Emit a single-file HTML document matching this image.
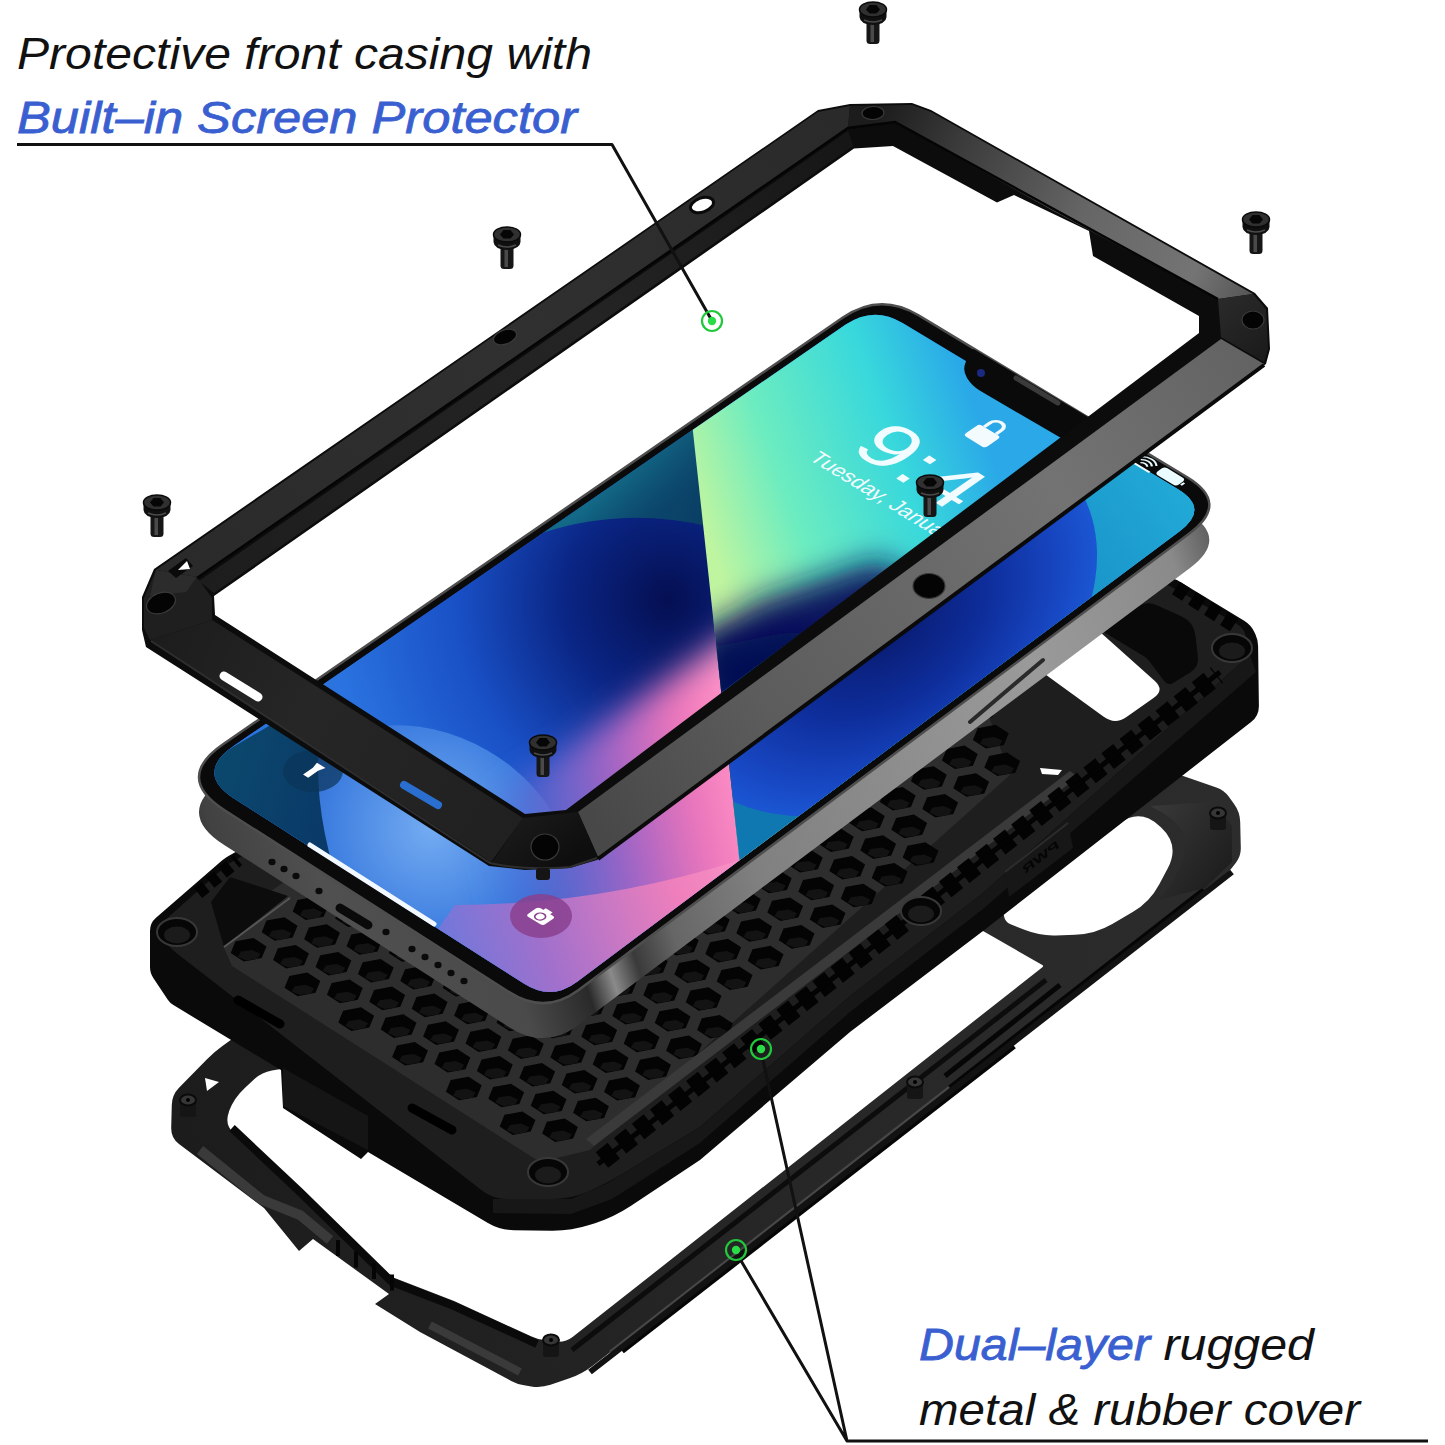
<!DOCTYPE html>
<html><head><meta charset="utf-8"><title>Protective case exploded view</title>
<style>html,body{margin:0;padding:0;background:#fff}body{width:1445px;height:1445px;overflow:hidden}svg{display:block}text{font-family:"Liberation Sans",sans-serif;font-style:italic}</style>
</head><body>
<svg width="1445" height="1445" viewBox="0 0 1445 1445"><defs><linearGradient id="bfg" gradientUnits="userSpaceOnUse" x1="170" y1="1050" x2="1240" y2="900"><stop offset="0" stop-color="#1c1c1c"/><stop offset="0.5" stop-color="#262626"/><stop offset="1" stop-color="#2c2c2c"/></linearGradient><linearGradient id="bfr" gradientUnits="userSpaceOnUse" x1="1150" y1="800" x2="1235" y2="860"><stop offset="0" stop-color="#3a3a3a"/><stop offset="1" stop-color="#1e1e1e"/></linearGradient><linearGradient id="pside" gradientUnits="userSpaceOnUse" x1="190" y1="900" x2="1230" y2="560"><stop offset="0" stop-color="#2a2a2a"/><stop offset="0.04" stop-color="#424242"/><stop offset="0.12" stop-color="#505050"/><stop offset="0.26" stop-color="#4a4a4a"/><stop offset="0.32" stop-color="#2a2a2a"/><stop offset="0.345" stop-color="#8a8a8a"/><stop offset="0.37" stop-color="#3a3a3a"/><stop offset="0.41" stop-color="#666"/><stop offset="0.5" stop-color="#808080"/><stop offset="0.8" stop-color="#9a9a9a"/><stop offset="0.95" stop-color="#8a8a8a"/><stop offset="1" stop-color="#555"/></linearGradient><clipPath id="scrclip"><path d="M234.7,798.9 Q194.3,773.0 233.8,745.8 L845.4,324.8 Q873.4,305.5 902.6,323.0 L1177.6,488.9 Q1210.1,508.5 1179.7,531.2 L576.8,981.9 Q551.2,1001.0 524.2,983.8 Z"/></clipPath><radialGradient id="disc" gradientUnits="userSpaceOnUse" cx="668" cy="600" r="340"><stop offset="0" stop-color="#050f52"/><stop offset="0.3" stop-color="#0a2584"/><stop offset="0.62" stop-color="#1950c6"/><stop offset="1" stop-color="#2b74e0"/></radialGradient><linearGradient id="teal" gradientUnits="userSpaceOnUse" x1="515" y1="470" x2="575" y2="565"><stop offset="0" stop-color="#2c9fa8"/><stop offset="0.45" stop-color="#167690"/><stop offset="1" stop-color="#0c4e74"/></linearGradient><linearGradient id="teal2" gradientUnits="userSpaceOnUse" x1="600" y1="470" x2="700" y2="520"><stop offset="0" stop-color="#000"/><stop offset="1" stop-color="#062a50"/></linearGradient><linearGradient id="tealsh" gradientUnits="userSpaceOnUse" x1="600" y1="470" x2="705" y2="520"><stop offset="0" stop-color="#0a3a60" stop-opacity="0"/><stop offset="1" stop-color="#0a3a60" stop-opacity="0.75"/></linearGradient><radialGradient id="sph2" gradientUnits="userSpaceOnUse" cx="420" cy="830" r="170"><stop offset="0" stop-color="#74acf2"/><stop offset="0.6" stop-color="#3f7fe0"/><stop offset="1" stop-color="#2a62c8"/></radialGradient><linearGradient id="lc" gradientUnits="userSpaceOnUse" x1="200" y1="760" x2="330" y2="800"><stop offset="0" stop-color="#0b4a6e"/><stop offset="1" stop-color="#0a3a68"/></linearGradient><clipPath id="leftdiv"><polygon points="689,395 739,856 760,1010 150,1010 150,300"/></clipPath><linearGradient id="pinkh" gradientUnits="userSpaceOnUse" x1="470" y1="820" x2="745" y2="760"><stop offset="0" stop-color="#3f6ad8" stop-opacity="0"/><stop offset="0.3" stop-color="#6a66cc" stop-opacity="0.85"/><stop offset="0.55" stop-color="#a765c4"/><stop offset="0.8" stop-color="#ee76ba"/><stop offset="1" stop-color="#ff94c8"/></linearGradient><linearGradient id="pink2" gradientUnits="userSpaceOnUse" x1="420" y1="980" x2="760" y2="860"><stop offset="0" stop-color="#5f7be0"/><stop offset="0.35" stop-color="#a070cc"/><stop offset="0.75" stop-color="#ee7fbc"/><stop offset="1" stop-color="#fa96c8"/></linearGradient><linearGradient id="wedge" gradientUnits="userSpaceOnUse" x1="700" y1="520" x2="980" y2="420"><stop offset="0" stop-color="#c0f5a0"/><stop offset="0.3" stop-color="#6cecc0"/><stop offset="0.7" stop-color="#38d8dc"/><stop offset="1" stop-color="#2aa8e8"/></linearGradient><filter id="blur14" x="-30%" y="-30%" width="160%" height="160%"><feGaussianBlur stdDeviation="16"/></filter><clipPath id="rightdiv"><polygon points="689,395 739,856 760,1010 1300,1010 1300,250 800,250"/></clipPath><clipPath id="belowband"><polygon points="722,692 1300,262 1300,1010 760,1010 739,856"/></clipPath><linearGradient id="bb" gradientUnits="userSpaceOnUse" x1="780" y1="800" x2="1200" y2="480"><stop offset="0" stop-color="#0f78b0"/><stop offset="0.5" stop-color="#1485c0"/><stop offset="1" stop-color="#22acd8"/></linearGradient><radialGradient id="bbd" gradientUnits="userSpaceOnUse" cx="0" cy="0" r="1"><stop offset="0" stop-color="#08186a"/><stop offset="0.5" stop-color="#0e2e9c"/><stop offset="0.85" stop-color="#1848c4"/><stop offset="1" stop-color="#1b56d2"/></radialGradient><linearGradient id="tl1" gradientUnits="userSpaceOnUse" x1="160" y1="570" x2="840" y2="115"><stop offset="0" stop-color="#2a2a2a"/><stop offset="0.5" stop-color="#303030"/><stop offset="1" stop-color="#2a2a2a"/></linearGradient><linearGradient id="tl2" gradientUnits="userSpaceOnUse" x1="200" y1="590" x2="850" y2="140"><stop offset="0" stop-color="#1d1d1d"/><stop offset="0.6" stop-color="#242424"/><stop offset="1" stop-color="#161616"/></linearGradient><linearGradient id="tr1" gradientUnits="userSpaceOnUse" x1="880" y1="110" x2="1250" y2="300"><stop offset="0" stop-color="#1c1c1c"/><stop offset="0.2" stop-color="#3a3a3a"/><stop offset="0.55" stop-color="#666"/><stop offset="0.85" stop-color="#747474"/><stop offset="1" stop-color="#555"/></linearGradient><linearGradient id="rc" gradientUnits="userSpaceOnUse" x1="1220" y1="300" x2="1268" y2="360"><stop offset="0" stop-color="#2a2a2a"/><stop offset="1" stop-color="#1a1a1a"/></linearGradient><linearGradient id="br1" gradientUnits="userSpaceOnUse" x1="600" y1="830" x2="1260" y2="350"><stop offset="0" stop-color="#484848"/><stop offset="0.25" stop-color="#5c5c5c"/><stop offset="0.7" stop-color="#737373"/><stop offset="1" stop-color="#626262"/></linearGradient><linearGradient id="bc" gradientUnits="userSpaceOnUse" x1="520" y1="815" x2="560" y2="868"><stop offset="0" stop-color="#1a1a1a"/><stop offset="1" stop-color="#0e0e0e"/></linearGradient><linearGradient id="bl1" gradientUnits="userSpaceOnUse" x1="150" y1="640" x2="520" y2="840"><stop offset="0" stop-color="#1c1c1c"/><stop offset="0.4" stop-color="#262626"/><stop offset="1" stop-color="#202020"/></linearGradient></defs>
<rect width="1445" height="1445" fill="#ffffff"/>
<g id="backframe">
<path d="M171.8,1105.0 Q172.0,1095.0 179.0,1087.8 L207.0,1059.2 Q214.0,1052.0 222.1,1046.2 L300.0,990.0 L1000.0,820.0 L1150.5,771.1 Q1160.0,768.0 1169.5,771.3 L1216.4,787.4 Q1224.0,790.0 1228.7,796.5 L1234.1,803.9 Q1240.0,812.0 1240.2,822.0 L1240.8,848.0 Q1241.0,856.0 1236.1,862.4 L1231.6,868.2 Q1228.0,873.0 1223.3,876.7 L593.1,1365.4 Q582.0,1374.0 568.8,1378.5 L550.5,1384.8 Q541.0,1388.0 531.1,1386.4 L522.9,1385.0 Q517.0,1384.0 511.7,1381.2 L420.0,1332.0 L375.0,1304.0 L389.0,1294.0 L313.0,1239.0 L299.0,1251.0 L264.0,1208.0 L179.0,1144.0 Q171.0,1138.0 171.2,1128.0 Z" fill="url(#bfg)" />
<path d="M229.1,1111.1 Q234.0,1098.0 244.3,1088.5 L254.7,1078.8 Q262.0,1072.0 271.9,1070.4 L700.0,1000.0 L983.0,931.0 L1042.3,965.0 Q1044.0,966.0 1042.4,967.2 L572.9,1336.8 Q565.0,1343.0 555.1,1341.6 L542.9,1339.8 Q537.0,1339.0 531.5,1336.5 L454.0,1301.0 L392.0,1277.0 L295.0,1187.0 L234.5,1134.2 Q224.0,1125.0 228.9,1111.9 Z" fill="#ffffff" />
<path d="M1004.0,915.9 Q1003.0,910.0 1007.8,906.4 L1119.1,823.5 Q1140.0,808.0 1159.1,825.7 L1160.9,827.3 Q1180.0,845.0 1167.9,868.0 L1159.3,884.3 Q1150.0,902.0 1132.7,912.1 L1112.3,923.9 Q1095.0,934.0 1075.0,934.7 L1056.0,935.4 Q1040.0,936.0 1025.1,930.1 L1010.6,924.3 Q1005.0,922.0 1004.0,916.0 Z" fill="#ffffff" />
<path d="M572,1350 L1046,980" stroke="#0c0c0c" stroke-width="5" fill="none"/>
<path d="M610,1352 L1010,1040" stroke="#474747" stroke-width="3" fill="none"/>
<path d="M622,1351 L1014,1046" stroke="#060606" stroke-width="6" fill="none"/>
<path d="M945,1076 L1060,985" stroke="#060606" stroke-width="5" fill="none"/>
<path d="M950,1088 L1204,890" stroke="#060606" stroke-width="6" fill="none"/>
<path d="M590,1372 L1232,872" stroke="#121212" stroke-width="6" fill="none"/>
<path d="M1150,806 Q1192,826 1185,850 Q1178,880 1158,900 L1205,888 L1232,862 L1232,826 L1214,802 Z" fill="url(#bfr)" />
<path d="M232,1128 L300,1192 L392,1282 L454,1306 L537,1344" stroke="#0a0a0a" stroke-width="8" fill="none"/>
<path d="M200,1150 L262,1200 L300,1215 L330,1240" stroke="#3a3a3a" stroke-width="10" fill="none"/>
<path d="M430,1325 L520,1372" stroke="#3a3a3a" stroke-width="8" fill="none"/>
<rect x="336" y="1240.0" width="4" height="16" fill="#050505"/>
<rect x="354" y="1251.5" width="4" height="16" fill="#050505"/>
<rect x="372" y="1263.0" width="4" height="16" fill="#050505"/>
<rect x="390" y="1274.5" width="4" height="16" fill="#050505"/>
<polygon points="205.0,1078.0 219.0,1082.0 207.0,1091.0" fill="#fff" />
<rect x="180" y="1100" width="16" height="17" rx="3" fill="#151515"/>
<ellipse cx="188" cy="1100" rx="8" ry="5.5" fill="#363636" stroke="#0a0a0a" stroke-width="2"/>
<circle cx="188" cy="1100" r="2" fill="#000"/>
<rect x="543" y="1340" width="16" height="17" rx="3" fill="#151515"/>
<ellipse cx="551" cy="1340" rx="8" ry="5.5" fill="#363636" stroke="#0a0a0a" stroke-width="2"/>
<circle cx="551" cy="1340" r="2" fill="#000"/>
<rect x="1210" y="813" width="16" height="17" rx="3" fill="#151515"/>
<ellipse cx="1218" cy="813" rx="8" ry="5.5" fill="#363636" stroke="#0a0a0a" stroke-width="2"/>
<circle cx="1218" cy="813" r="2" fill="#000"/>
<rect x="907" y="1082" width="16" height="17" rx="3" fill="#151515"/>
<ellipse cx="915" cy="1082" rx="8" ry="5.5" fill="#363636" stroke="#0a0a0a" stroke-width="2"/>
<circle cx="915" cy="1082" r="2" fill="#000"/>
</g>
<g id="rubber">
<path d="M150.0,931.0 Q150.0,923.0 156.0,917.8 L222.0,860.6 Q225.0,858.0 228.5,856.0 L900.0,480.0 L1177.0,580.0 L1244.2,620.8 Q1251.0,625.0 1254.4,632.2 L1255.5,634.6 Q1258.0,640.0 1258.1,646.0 L1258.9,706.0 Q1259.0,716.0 1251.1,722.1 L983.0,931.0 L850.0,1032.0 L700.0,1160.0 L630.7,1206.0 Q614.0,1217.0 595.0,1223.2 L590.0,1224.8 Q571.0,1231.0 551.0,1230.7 L514.0,1230.2 Q500.0,1230.0 487.9,1222.9 L368.0,1152.0 L361.0,1159.0 L283.0,1108.0 L281.0,1070.0 L173.4,1005.1 Q170.0,1003.0 167.8,999.7 L153.3,978.0 Q150.0,973.0 150.0,967.0 Z" fill="#0a0a0a" />
<path d="M160.6,934.6 Q156.0,928.0 162.0,922.7 L225.0,866.7 Q228.0,864.0 231.5,862.1 L900.0,490.0 L1170.0,586.0 L1237.0,624.1 Q1244.0,628.0 1245.7,635.8 L1248.3,647.2 Q1250.0,655.0 1244.0,660.3 L983.0,893.0 L850.0,996.0 L700.0,1127.0 L622.3,1174.1 Q606.0,1184.0 588.5,1191.5 L588.5,1191.5 Q571.0,1199.0 552.0,1199.0 L507.0,1199.0 Q493.0,1199.0 481.9,1190.4 L176.3,952.9 Q170.0,948.0 165.4,941.4 Z" fill="#1e1e1e" />
<polygon points="1250.0,655.0 983.0,893.0 850.0,996.0 700.0,1127.0 606.0,1184.0 571.0,1199.0 493.0,1199.0 493.0,1213.0 571.0,1214.0 612.0,1199.0 700.0,1143.0 850.0,1012.0 983.0,909.0 1256.0,672.0" fill="#171717" />
<path d="M224.0,948.0 L250.0,905.0 L900.0,470.0 L1010.0,775.0 L590.0,1150.0 L540.0,1162.0 L232.0,966.0 Z" fill="#2d2d2d" />
<path d="M844.1,525.4 L839.3,537.1 L821.4,540.5 L808.3,532.0 L813.1,520.3 L831.0,516.9Z M266.5,946.4 L261.7,958.1 L243.8,961.5 L230.7,953.0 L235.5,941.3 L253.4,937.9Z M297.5,925.7 L292.7,937.4 L274.8,940.8 L261.7,932.3 L266.5,920.6 L284.4,917.2Z M328.5,905.0 L323.7,916.7 L305.8,920.1 L292.7,911.6 L297.5,899.9 L315.4,896.5Z M359.5,884.3 L354.7,896.0 L336.8,899.4 L323.7,890.9 L328.5,879.2 L346.4,875.8Z M390.5,863.6 L385.7,875.3 L367.8,878.7 L354.7,870.2 L359.5,858.5 L377.4,855.1Z M421.5,842.9 L416.7,854.6 L398.8,858.0 L385.7,849.5 L390.5,837.8 L408.4,834.4Z M452.5,822.2 L447.7,833.9 L429.8,837.3 L416.7,828.8 L421.5,817.1 L439.4,813.7Z M483.5,801.5 L478.7,813.2 L460.8,816.6 L447.7,808.1 L452.5,796.4 L470.4,793.0Z M514.5,780.8 L509.7,792.5 L491.8,795.9 L478.7,787.4 L483.5,775.7 L501.4,772.3Z M545.5,760.1 L540.7,771.8 L522.8,775.2 L509.7,766.7 L514.5,755.0 L532.4,751.6Z M576.5,739.4 L571.7,751.1 L553.8,754.5 L540.7,746.0 L545.5,734.3 L563.4,730.9Z M607.5,718.7 L602.7,730.4 L584.8,733.8 L571.7,725.3 L576.5,713.6 L594.4,710.2Z M638.5,698.0 L633.7,709.7 L615.8,713.1 L602.7,704.6 L607.5,692.9 L625.4,689.5Z M669.5,677.3 L664.7,689.0 L646.8,692.4 L633.7,683.9 L638.5,672.2 L656.4,668.8Z M700.5,656.6 L695.7,668.3 L677.8,671.7 L664.7,663.2 L669.5,651.5 L687.4,648.1Z M731.5,635.9 L726.7,647.6 L708.8,651.0 L695.7,642.5 L700.5,630.8 L718.4,627.4Z M762.5,615.2 L757.7,626.9 L739.8,630.3 L726.7,621.8 L731.5,610.1 L749.4,606.7Z M793.5,594.5 L788.7,606.2 L770.8,609.6 L757.7,601.1 L762.5,589.4 L780.4,586.0Z M824.5,573.8 L819.7,585.5 L801.8,588.9 L788.7,580.4 L793.5,568.7 L811.4,565.3Z M855.5,553.1 L850.7,564.8 L832.8,568.2 L819.7,559.7 L824.5,548.0 L842.4,544.6Z M886.5,532.4 L881.7,544.1 L863.8,547.5 L850.7,539.0 L855.5,527.3 L873.4,523.9Z M308.9,953.4 L304.1,965.1 L286.2,968.5 L273.1,960.0 L277.9,948.3 L295.8,944.9Z M339.9,932.7 L335.1,944.4 L317.2,947.8 L304.1,939.3 L308.9,927.6 L326.8,924.2Z M370.9,912.0 L366.1,923.7 L348.2,927.1 L335.1,918.6 L339.9,906.9 L357.8,903.5Z M401.9,891.3 L397.1,903.0 L379.2,906.4 L366.1,897.9 L370.9,886.2 L388.8,882.8Z M432.9,870.6 L428.1,882.3 L410.2,885.7 L397.1,877.2 L401.9,865.5 L419.8,862.1Z M463.9,849.9 L459.1,861.6 L441.2,865.0 L428.1,856.5 L432.9,844.8 L450.8,841.4Z M494.9,829.2 L490.1,840.9 L472.2,844.3 L459.1,835.8 L463.9,824.1 L481.8,820.7Z M525.9,808.5 L521.1,820.2 L503.2,823.6 L490.1,815.1 L494.9,803.4 L512.8,800.0Z M556.9,787.8 L552.1,799.5 L534.2,802.9 L521.1,794.4 L525.9,782.7 L543.8,779.3Z M587.9,767.1 L583.1,778.8 L565.2,782.2 L552.1,773.7 L556.9,762.0 L574.8,758.6Z M618.9,746.4 L614.1,758.1 L596.2,761.5 L583.1,753.0 L587.9,741.3 L605.8,737.9Z M649.9,725.7 L645.1,737.4 L627.2,740.8 L614.1,732.3 L618.9,720.6 L636.8,717.2Z M680.9,705.0 L676.1,716.7 L658.2,720.1 L645.1,711.6 L649.9,699.9 L667.8,696.5Z M711.9,684.3 L707.1,696.0 L689.2,699.4 L676.1,690.9 L680.9,679.2 L698.8,675.8Z M742.9,663.6 L738.1,675.3 L720.2,678.7 L707.1,670.2 L711.9,658.5 L729.8,655.1Z M773.9,642.9 L769.1,654.6 L751.2,658.0 L738.1,649.5 L742.9,637.8 L760.8,634.4Z M804.9,622.2 L800.1,633.9 L782.2,637.3 L769.1,628.8 L773.9,617.1 L791.8,613.7Z M835.9,601.5 L831.1,613.2 L813.2,616.6 L800.1,608.1 L804.9,596.4 L822.8,593.0Z M866.9,580.8 L862.1,592.5 L844.2,595.9 L831.1,587.4 L835.9,575.7 L853.8,572.3Z M897.9,560.1 L893.1,571.8 L875.2,575.2 L862.1,566.7 L866.9,555.0 L884.8,551.6Z M928.9,539.4 L924.1,551.1 L906.2,554.5 L893.1,546.0 L897.9,534.3 L915.8,530.9Z M320.3,981.1 L315.5,992.8 L297.6,996.2 L284.5,987.7 L289.3,976.0 L307.2,972.6Z M351.3,960.4 L346.5,972.1 L328.6,975.5 L315.5,967.0 L320.3,955.3 L338.2,951.9Z M382.3,939.7 L377.5,951.4 L359.6,954.8 L346.5,946.3 L351.3,934.6 L369.2,931.2Z M413.3,919.0 L408.5,930.7 L390.6,934.1 L377.5,925.6 L382.3,913.9 L400.2,910.5Z M444.3,898.3 L439.5,910.0 L421.6,913.4 L408.5,904.9 L413.3,893.2 L431.2,889.8Z M475.3,877.6 L470.5,889.3 L452.6,892.7 L439.5,884.2 L444.3,872.5 L462.2,869.1Z M506.3,856.9 L501.5,868.6 L483.6,872.0 L470.5,863.5 L475.3,851.8 L493.2,848.4Z M537.3,836.2 L532.5,847.9 L514.6,851.3 L501.5,842.8 L506.3,831.1 L524.2,827.7Z M568.3,815.5 L563.5,827.2 L545.6,830.6 L532.5,822.1 L537.3,810.4 L555.2,807.0Z M599.3,794.8 L594.5,806.5 L576.6,809.9 L563.5,801.4 L568.3,789.7 L586.2,786.3Z M630.3,774.1 L625.5,785.8 L607.6,789.2 L594.5,780.7 L599.3,769.0 L617.2,765.6Z M661.3,753.4 L656.5,765.1 L638.6,768.5 L625.5,760.0 L630.3,748.3 L648.2,744.9Z M692.3,732.7 L687.5,744.4 L669.6,747.8 L656.5,739.3 L661.3,727.6 L679.2,724.2Z M723.3,712.0 L718.5,723.7 L700.6,727.1 L687.5,718.6 L692.3,706.9 L710.2,703.5Z M754.3,691.3 L749.5,703.0 L731.6,706.4 L718.5,697.9 L723.3,686.2 L741.2,682.8Z M785.3,670.6 L780.5,682.3 L762.6,685.7 L749.5,677.2 L754.3,665.5 L772.2,662.1Z M816.3,649.9 L811.5,661.6 L793.6,665.0 L780.5,656.5 L785.3,644.8 L803.2,641.4Z M847.3,629.2 L842.5,640.9 L824.6,644.3 L811.5,635.8 L816.3,624.1 L834.2,620.7Z M878.3,608.5 L873.5,620.2 L855.6,623.6 L842.5,615.1 L847.3,603.4 L865.2,600.0Z M909.3,587.8 L904.5,599.5 L886.6,602.9 L873.5,594.4 L878.3,582.7 L896.2,579.3Z M940.3,567.1 L935.5,578.8 L917.6,582.2 L904.5,573.7 L909.3,562.0 L927.2,558.6Z M362.7,988.1 L357.9,999.8 L340.0,1003.2 L326.9,994.7 L331.7,983.0 L349.6,979.6Z M393.7,967.4 L388.9,979.1 L371.0,982.5 L357.9,974.0 L362.7,962.3 L380.6,958.9Z M424.7,946.7 L419.9,958.4 L402.0,961.8 L388.9,953.3 L393.7,941.6 L411.6,938.2Z M455.7,926.0 L450.9,937.7 L433.0,941.1 L419.9,932.6 L424.7,920.9 L442.6,917.5Z M486.7,905.3 L481.9,917.0 L464.0,920.4 L450.9,911.9 L455.7,900.2 L473.6,896.8Z M517.7,884.6 L512.9,896.3 L495.0,899.7 L481.9,891.2 L486.7,879.5 L504.6,876.1Z M548.7,863.9 L543.9,875.6 L526.0,879.0 L512.9,870.5 L517.7,858.8 L535.6,855.4Z M579.7,843.2 L574.9,854.9 L557.0,858.3 L543.9,849.8 L548.7,838.1 L566.6,834.7Z M610.7,822.5 L605.9,834.2 L588.0,837.6 L574.9,829.1 L579.7,817.4 L597.6,814.0Z M641.7,801.8 L636.9,813.5 L619.0,816.9 L605.9,808.4 L610.7,796.7 L628.6,793.3Z M672.7,781.1 L667.9,792.8 L650.0,796.2 L636.9,787.7 L641.7,776.0 L659.6,772.6Z M703.7,760.4 L698.9,772.1 L681.0,775.5 L667.9,767.0 L672.7,755.3 L690.6,751.9Z M734.7,739.7 L729.9,751.4 L712.0,754.8 L698.9,746.3 L703.7,734.6 L721.6,731.2Z M765.7,719.0 L760.9,730.7 L743.0,734.1 L729.9,725.6 L734.7,713.9 L752.6,710.5Z M796.7,698.3 L791.9,710.0 L774.0,713.4 L760.9,704.9 L765.7,693.2 L783.6,689.8Z M827.7,677.6 L822.9,689.3 L805.0,692.7 L791.9,684.2 L796.7,672.5 L814.6,669.1Z M858.7,656.9 L853.9,668.6 L836.0,672.0 L822.9,663.5 L827.7,651.8 L845.6,648.4Z M889.7,636.2 L884.9,647.9 L867.0,651.3 L853.9,642.8 L858.7,631.1 L876.6,627.7Z M920.7,615.5 L915.9,627.2 L898.0,630.6 L884.9,622.1 L889.7,610.4 L907.6,607.0Z M951.7,594.8 L946.9,606.5 L929.0,609.9 L915.9,601.4 L920.7,589.7 L938.6,586.3Z M374.1,1015.8 L369.3,1027.5 L351.4,1030.9 L338.3,1022.4 L343.1,1010.7 L361.0,1007.3Z M405.1,995.1 L400.3,1006.8 L382.4,1010.2 L369.3,1001.7 L374.1,990.0 L392.0,986.6Z M436.1,974.4 L431.3,986.1 L413.4,989.5 L400.3,981.0 L405.1,969.3 L423.0,965.9Z M467.1,953.7 L462.3,965.4 L444.4,968.8 L431.3,960.3 L436.1,948.6 L454.0,945.2Z M498.1,933.0 L493.3,944.7 L475.4,948.1 L462.3,939.6 L467.1,927.9 L485.0,924.5Z M529.1,912.3 L524.3,924.0 L506.4,927.4 L493.3,918.9 L498.1,907.2 L516.0,903.8Z M560.1,891.6 L555.3,903.3 L537.4,906.7 L524.3,898.2 L529.1,886.5 L547.0,883.1Z M591.1,870.9 L586.3,882.6 L568.4,886.0 L555.3,877.5 L560.1,865.8 L578.0,862.4Z M622.1,850.2 L617.3,861.9 L599.4,865.3 L586.3,856.8 L591.1,845.1 L609.0,841.7Z M653.1,829.5 L648.3,841.2 L630.4,844.6 L617.3,836.1 L622.1,824.4 L640.0,821.0Z M684.1,808.8 L679.3,820.5 L661.4,823.9 L648.3,815.4 L653.1,803.7 L671.0,800.3Z M715.1,788.1 L710.3,799.8 L692.4,803.2 L679.3,794.7 L684.1,783.0 L702.0,779.6Z M746.1,767.4 L741.3,779.1 L723.4,782.5 L710.3,774.0 L715.1,762.3 L733.0,758.9Z M777.1,746.7 L772.3,758.4 L754.4,761.8 L741.3,753.3 L746.1,741.6 L764.0,738.2Z M808.1,726.0 L803.3,737.7 L785.4,741.1 L772.3,732.6 L777.1,720.9 L795.0,717.5Z M839.1,705.3 L834.3,717.0 L816.4,720.4 L803.3,711.9 L808.1,700.2 L826.0,696.8Z M870.1,684.6 L865.3,696.3 L847.4,699.7 L834.3,691.2 L839.1,679.5 L857.0,676.1Z M901.1,663.9 L896.3,675.6 L878.4,679.0 L865.3,670.5 L870.1,658.8 L888.0,655.4Z M932.1,643.2 L927.3,654.9 L909.4,658.3 L896.3,649.8 L901.1,638.1 L919.0,634.7Z M963.1,622.5 L958.3,634.2 L940.4,637.6 L927.3,629.1 L932.1,617.4 L950.0,614.0Z M416.5,1022.8 L411.7,1034.5 L393.8,1037.9 L380.7,1029.4 L385.5,1017.7 L403.4,1014.3Z M447.5,1002.1 L442.7,1013.8 L424.8,1017.2 L411.7,1008.7 L416.5,997.0 L434.4,993.6Z M478.5,981.4 L473.7,993.1 L455.8,996.5 L442.7,988.0 L447.5,976.3 L465.4,972.9Z M509.5,960.7 L504.7,972.4 L486.8,975.8 L473.7,967.3 L478.5,955.6 L496.4,952.2Z M540.5,940.0 L535.7,951.7 L517.8,955.1 L504.7,946.6 L509.5,934.9 L527.4,931.5Z M571.5,919.3 L566.7,931.0 L548.8,934.4 L535.7,925.9 L540.5,914.2 L558.4,910.8Z M602.5,898.6 L597.7,910.3 L579.8,913.7 L566.7,905.2 L571.5,893.5 L589.4,890.1Z M633.5,877.9 L628.7,889.6 L610.8,893.0 L597.7,884.5 L602.5,872.8 L620.4,869.4Z M664.5,857.2 L659.7,868.9 L641.8,872.3 L628.7,863.8 L633.5,852.1 L651.4,848.7Z M695.5,836.5 L690.7,848.2 L672.8,851.6 L659.7,843.1 L664.5,831.4 L682.4,828.0Z M726.5,815.8 L721.7,827.5 L703.8,830.9 L690.7,822.4 L695.5,810.7 L713.4,807.3Z M757.5,795.1 L752.7,806.8 L734.8,810.2 L721.7,801.7 L726.5,790.0 L744.4,786.6Z M788.5,774.4 L783.7,786.1 L765.8,789.5 L752.7,781.0 L757.5,769.3 L775.4,765.9Z M819.5,753.7 L814.7,765.4 L796.8,768.8 L783.7,760.3 L788.5,748.6 L806.4,745.2Z M850.5,733.0 L845.7,744.7 L827.8,748.1 L814.7,739.6 L819.5,727.9 L837.4,724.5Z M881.5,712.3 L876.7,724.0 L858.8,727.4 L845.7,718.9 L850.5,707.2 L868.4,703.8Z M912.5,691.6 L907.7,703.3 L889.8,706.7 L876.7,698.2 L881.5,686.5 L899.4,683.1Z M943.5,670.9 L938.7,682.6 L920.8,686.0 L907.7,677.5 L912.5,665.8 L930.4,662.4Z M974.5,650.2 L969.7,661.9 L951.8,665.3 L938.7,656.8 L943.5,645.1 L961.4,641.7Z M427.9,1050.5 L423.1,1062.2 L405.2,1065.6 L392.1,1057.1 L396.9,1045.4 L414.8,1042.0Z M458.9,1029.8 L454.1,1041.5 L436.2,1044.9 L423.1,1036.4 L427.9,1024.7 L445.8,1021.3Z M489.9,1009.1 L485.1,1020.8 L467.2,1024.2 L454.1,1015.7 L458.9,1004.0 L476.8,1000.6Z M520.9,988.4 L516.1,1000.1 L498.2,1003.5 L485.1,995.0 L489.9,983.3 L507.8,979.9Z M551.9,967.7 L547.1,979.4 L529.2,982.8 L516.1,974.3 L520.9,962.6 L538.8,959.2Z M582.9,947.0 L578.1,958.7 L560.2,962.1 L547.1,953.6 L551.9,941.9 L569.8,938.5Z M613.9,926.3 L609.1,938.0 L591.2,941.4 L578.1,932.9 L582.9,921.2 L600.8,917.8Z M644.9,905.6 L640.1,917.3 L622.2,920.7 L609.1,912.2 L613.9,900.5 L631.8,897.1Z M675.9,884.9 L671.1,896.6 L653.2,900.0 L640.1,891.5 L644.9,879.8 L662.8,876.4Z M706.9,864.2 L702.1,875.9 L684.2,879.3 L671.1,870.8 L675.9,859.1 L693.8,855.7Z M737.9,843.5 L733.1,855.2 L715.2,858.6 L702.1,850.1 L706.9,838.4 L724.8,835.0Z M768.9,822.8 L764.1,834.5 L746.2,837.9 L733.1,829.4 L737.9,817.7 L755.8,814.3Z M799.9,802.1 L795.1,813.8 L777.2,817.2 L764.1,808.7 L768.9,797.0 L786.8,793.6Z M830.9,781.4 L826.1,793.1 L808.2,796.5 L795.1,788.0 L799.9,776.3 L817.8,772.9Z M861.9,760.7 L857.1,772.4 L839.2,775.8 L826.1,767.3 L830.9,755.6 L848.8,752.2Z M892.9,740.0 L888.1,751.7 L870.2,755.1 L857.1,746.6 L861.9,734.9 L879.8,731.5Z M923.9,719.3 L919.1,731.0 L901.2,734.4 L888.1,725.9 L892.9,714.2 L910.8,710.8Z M954.9,698.6 L950.1,710.3 L932.2,713.7 L919.1,705.2 L923.9,693.5 L941.8,690.1Z M985.9,677.9 L981.1,689.6 L963.2,693.0 L950.1,684.5 L954.9,672.8 L972.8,669.4Z M470.3,1057.5 L465.5,1069.2 L447.6,1072.6 L434.5,1064.1 L439.3,1052.4 L457.2,1049.0Z M501.3,1036.8 L496.5,1048.5 L478.6,1051.9 L465.5,1043.4 L470.3,1031.7 L488.2,1028.3Z M532.3,1016.1 L527.5,1027.8 L509.6,1031.2 L496.5,1022.7 L501.3,1011.0 L519.2,1007.6Z M563.3,995.4 L558.5,1007.1 L540.6,1010.5 L527.5,1002.0 L532.3,990.3 L550.2,986.9Z M594.3,974.7 L589.5,986.4 L571.6,989.8 L558.5,981.3 L563.3,969.6 L581.2,966.2Z M625.3,954.0 L620.5,965.7 L602.6,969.1 L589.5,960.6 L594.3,948.9 L612.2,945.5Z M656.3,933.3 L651.5,945.0 L633.6,948.4 L620.5,939.9 L625.3,928.2 L643.2,924.8Z M687.3,912.6 L682.5,924.3 L664.6,927.7 L651.5,919.2 L656.3,907.5 L674.2,904.1Z M718.3,891.9 L713.5,903.6 L695.6,907.0 L682.5,898.5 L687.3,886.8 L705.2,883.4Z M749.3,871.2 L744.5,882.9 L726.6,886.3 L713.5,877.8 L718.3,866.1 L736.2,862.7Z M780.3,850.5 L775.5,862.2 L757.6,865.6 L744.5,857.1 L749.3,845.4 L767.2,842.0Z M811.3,829.8 L806.5,841.5 L788.6,844.9 L775.5,836.4 L780.3,824.7 L798.2,821.3Z M842.3,809.1 L837.5,820.8 L819.6,824.2 L806.5,815.7 L811.3,804.0 L829.2,800.6Z M873.3,788.4 L868.5,800.1 L850.6,803.5 L837.5,795.0 L842.3,783.3 L860.2,779.9Z M904.3,767.7 L899.5,779.4 L881.6,782.8 L868.5,774.3 L873.3,762.6 L891.2,759.2Z M935.3,747.0 L930.5,758.7 L912.6,762.1 L899.5,753.6 L904.3,741.9 L922.2,738.5Z M966.3,726.3 L961.5,738.0 L943.6,741.4 L930.5,732.9 L935.3,721.2 L953.2,717.8Z M997.3,705.6 L992.5,717.3 L974.6,720.7 L961.5,712.2 L966.3,700.5 L984.2,697.1Z M481.7,1085.2 L476.9,1096.9 L459.0,1100.3 L445.9,1091.8 L450.7,1080.1 L468.6,1076.7Z M512.7,1064.5 L507.9,1076.2 L490.0,1079.6 L476.9,1071.1 L481.7,1059.4 L499.6,1056.0Z M543.7,1043.8 L538.9,1055.5 L521.0,1058.9 L507.9,1050.4 L512.7,1038.7 L530.6,1035.3Z M574.7,1023.1 L569.9,1034.8 L552.0,1038.2 L538.9,1029.7 L543.7,1018.0 L561.6,1014.6Z M605.7,1002.4 L600.9,1014.1 L583.0,1017.5 L569.9,1009.0 L574.7,997.3 L592.6,993.9Z M636.7,981.7 L631.9,993.4 L614.0,996.8 L600.9,988.3 L605.7,976.6 L623.6,973.2Z M667.7,961.0 L662.9,972.7 L645.0,976.1 L631.9,967.6 L636.7,955.9 L654.6,952.5Z M698.7,940.3 L693.9,952.0 L676.0,955.4 L662.9,946.9 L667.7,935.2 L685.6,931.8Z M729.7,919.6 L724.9,931.3 L707.0,934.7 L693.9,926.2 L698.7,914.5 L716.6,911.1Z M760.7,898.9 L755.9,910.6 L738.0,914.0 L724.9,905.5 L729.7,893.8 L747.6,890.4Z M791.7,878.2 L786.9,889.9 L769.0,893.3 L755.9,884.8 L760.7,873.1 L778.6,869.7Z M822.7,857.5 L817.9,869.2 L800.0,872.6 L786.9,864.1 L791.7,852.4 L809.6,849.0Z M853.7,836.8 L848.9,848.5 L831.0,851.9 L817.9,843.4 L822.7,831.7 L840.6,828.3Z M884.7,816.1 L879.9,827.8 L862.0,831.2 L848.9,822.7 L853.7,811.0 L871.6,807.6Z M915.7,795.4 L910.9,807.1 L893.0,810.5 L879.9,802.0 L884.7,790.3 L902.6,786.9Z M946.7,774.7 L941.9,786.4 L924.0,789.8 L910.9,781.3 L915.7,769.6 L933.6,766.2Z M977.7,754.0 L972.9,765.7 L955.0,769.1 L941.9,760.6 L946.7,748.9 L964.6,745.5Z M1008.7,733.3 L1003.9,745.0 L986.0,748.4 L972.9,739.9 L977.7,728.2 L995.6,724.8Z M524.1,1092.2 L519.3,1103.9 L501.4,1107.3 L488.3,1098.8 L493.1,1087.1 L511.0,1083.7Z M555.1,1071.5 L550.3,1083.2 L532.4,1086.6 L519.3,1078.1 L524.1,1066.4 L542.0,1063.0Z M586.1,1050.8 L581.3,1062.5 L563.4,1065.9 L550.3,1057.4 L555.1,1045.7 L573.0,1042.3Z M617.1,1030.1 L612.3,1041.8 L594.4,1045.2 L581.3,1036.7 L586.1,1025.0 L604.0,1021.6Z M648.1,1009.4 L643.3,1021.1 L625.4,1024.5 L612.3,1016.0 L617.1,1004.3 L635.0,1000.9Z M679.1,988.7 L674.3,1000.4 L656.4,1003.8 L643.3,995.3 L648.1,983.6 L666.0,980.2Z M710.1,968.0 L705.3,979.7 L687.4,983.1 L674.3,974.6 L679.1,962.9 L697.0,959.5Z M741.1,947.3 L736.3,959.0 L718.4,962.4 L705.3,953.9 L710.1,942.2 L728.0,938.8Z M772.1,926.6 L767.3,938.3 L749.4,941.7 L736.3,933.2 L741.1,921.5 L759.0,918.1Z M803.1,905.9 L798.3,917.6 L780.4,921.0 L767.3,912.5 L772.1,900.8 L790.0,897.4Z M834.1,885.2 L829.3,896.9 L811.4,900.3 L798.3,891.8 L803.1,880.1 L821.0,876.7Z M865.1,864.5 L860.3,876.2 L842.4,879.6 L829.3,871.1 L834.1,859.4 L852.0,856.0Z M896.1,843.8 L891.3,855.5 L873.4,858.9 L860.3,850.4 L865.1,838.7 L883.0,835.3Z M927.1,823.1 L922.3,834.8 L904.4,838.2 L891.3,829.7 L896.1,818.0 L914.0,814.6Z M958.1,802.4 L953.3,814.1 L935.4,817.5 L922.3,809.0 L927.1,797.3 L945.0,793.9Z M989.1,781.7 L984.3,793.4 L966.4,796.8 L953.3,788.3 L958.1,776.6 L976.0,773.2Z M1020.1,761.0 L1015.3,772.7 L997.4,776.1 L984.3,767.6 L989.1,755.9 L1007.0,752.5Z M535.5,1119.9 L530.7,1131.6 L512.8,1135.0 L499.7,1126.5 L504.5,1114.8 L522.4,1111.4Z M566.5,1099.2 L561.7,1110.9 L543.8,1114.3 L530.7,1105.8 L535.5,1094.1 L553.4,1090.7Z M597.5,1078.5 L592.7,1090.2 L574.8,1093.6 L561.7,1085.1 L566.5,1073.4 L584.4,1070.0Z M628.5,1057.8 L623.7,1069.5 L605.8,1072.9 L592.7,1064.4 L597.5,1052.7 L615.4,1049.3Z M659.5,1037.1 L654.7,1048.8 L636.8,1052.2 L623.7,1043.7 L628.5,1032.0 L646.4,1028.6Z M690.5,1016.4 L685.7,1028.1 L667.8,1031.5 L654.7,1023.0 L659.5,1011.3 L677.4,1007.9Z M721.5,995.7 L716.7,1007.4 L698.8,1010.8 L685.7,1002.3 L690.5,990.6 L708.4,987.2Z M752.5,975.0 L747.7,986.7 L729.8,990.1 L716.7,981.6 L721.5,969.9 L739.4,966.5Z M783.5,954.3 L778.7,966.0 L760.8,969.4 L747.7,960.9 L752.5,949.2 L770.4,945.8Z M814.5,933.6 L809.7,945.3 L791.8,948.7 L778.7,940.2 L783.5,928.5 L801.4,925.1Z M845.5,912.9 L840.7,924.6 L822.8,928.0 L809.7,919.5 L814.5,907.8 L832.4,904.4Z M876.5,892.2 L871.7,903.9 L853.8,907.3 L840.7,898.8 L845.5,887.1 L863.4,883.7Z M907.5,871.5 L902.7,883.2 L884.8,886.6 L871.7,878.1 L876.5,866.4 L894.4,863.0Z M938.5,850.8 L933.7,862.5 L915.8,865.9 L902.7,857.4 L907.5,845.7 L925.4,842.3Z M577.9,1126.9 L573.1,1138.6 L555.2,1142.0 L542.1,1133.5 L546.9,1121.8 L564.8,1118.4Z M608.9,1106.2 L604.1,1117.9 L586.2,1121.3 L573.1,1112.8 L577.9,1101.1 L595.8,1097.7Z M639.9,1085.5 L635.1,1097.2 L617.2,1100.6 L604.1,1092.1 L608.9,1080.4 L626.8,1077.0Z M670.9,1064.8 L666.1,1076.5 L648.2,1079.9 L635.1,1071.4 L639.9,1059.7 L657.8,1056.3Z M701.9,1044.1 L697.1,1055.8 L679.2,1059.2 L666.1,1050.7 L670.9,1039.0 L688.8,1035.6Z M732.9,1023.4 L728.1,1035.1 L710.2,1038.5 L697.1,1030.0 L701.9,1018.3 L719.8,1014.9Z" fill="#040404" />
<path d="M838.0,532.7 L834.9,537.9 L823.7,539.4 L815.4,535.7 L818.5,530.5 L829.7,529.0Z M260.4,953.7 L257.3,958.9 L246.1,960.4 L237.8,956.7 L240.9,951.5 L252.1,950.0Z M291.4,933.0 L288.3,938.2 L277.1,939.7 L268.8,936.0 L271.9,930.8 L283.1,929.3Z M322.4,912.3 L319.3,917.5 L308.1,919.0 L299.8,915.3 L302.9,910.1 L314.1,908.6Z M353.4,891.6 L350.3,896.8 L339.1,898.3 L330.8,894.6 L333.9,889.4 L345.1,887.9Z M384.4,870.9 L381.3,876.1 L370.1,877.6 L361.8,873.9 L364.9,868.7 L376.1,867.2Z M415.4,850.2 L412.3,855.4 L401.1,856.9 L392.8,853.2 L395.9,848.0 L407.1,846.5Z M446.4,829.5 L443.3,834.7 L432.1,836.2 L423.8,832.5 L426.9,827.3 L438.1,825.8Z M477.4,808.8 L474.3,814.0 L463.1,815.5 L454.8,811.8 L457.9,806.6 L469.1,805.1Z M508.4,788.1 L505.3,793.3 L494.1,794.8 L485.8,791.1 L488.9,785.9 L500.1,784.4Z M539.4,767.4 L536.3,772.6 L525.1,774.1 L516.8,770.4 L519.9,765.2 L531.1,763.7Z M570.4,746.7 L567.3,751.9 L556.1,753.4 L547.8,749.7 L550.9,744.5 L562.1,743.0Z M601.4,726.0 L598.3,731.2 L587.1,732.7 L578.8,729.0 L581.9,723.8 L593.1,722.3Z M632.4,705.3 L629.3,710.5 L618.1,712.0 L609.8,708.3 L612.9,703.1 L624.1,701.6Z M663.4,684.6 L660.3,689.8 L649.1,691.3 L640.8,687.6 L643.9,682.4 L655.1,680.9Z M694.4,663.9 L691.3,669.1 L680.1,670.6 L671.8,666.9 L674.9,661.7 L686.1,660.2Z M725.4,643.2 L722.3,648.4 L711.1,649.9 L702.8,646.2 L705.9,641.0 L717.1,639.5Z M756.4,622.5 L753.3,627.7 L742.1,629.2 L733.8,625.5 L736.9,620.3 L748.1,618.8Z M787.4,601.8 L784.3,607.0 L773.1,608.5 L764.8,604.8 L767.9,599.6 L779.1,598.1Z M818.4,581.1 L815.3,586.3 L804.1,587.8 L795.8,584.1 L798.9,578.9 L810.1,577.4Z M849.4,560.4 L846.3,565.6 L835.1,567.1 L826.8,563.4 L829.9,558.2 L841.1,556.7Z M880.4,539.7 L877.3,544.9 L866.1,546.4 L857.8,542.7 L860.9,537.5 L872.1,536.0Z M302.8,960.7 L299.7,965.9 L288.5,967.4 L280.2,963.7 L283.3,958.5 L294.5,957.0Z M333.8,940.0 L330.7,945.2 L319.5,946.7 L311.2,943.0 L314.3,937.8 L325.5,936.3Z M364.8,919.3 L361.7,924.5 L350.5,926.0 L342.2,922.3 L345.3,917.1 L356.5,915.6Z M395.8,898.6 L392.7,903.8 L381.5,905.3 L373.2,901.6 L376.3,896.4 L387.5,894.9Z M426.8,877.9 L423.7,883.1 L412.5,884.6 L404.2,880.9 L407.3,875.7 L418.5,874.2Z M457.8,857.2 L454.7,862.4 L443.5,863.9 L435.2,860.2 L438.3,855.0 L449.5,853.5Z M488.8,836.5 L485.7,841.7 L474.5,843.2 L466.2,839.5 L469.3,834.3 L480.5,832.8Z M519.8,815.8 L516.7,821.0 L505.5,822.5 L497.2,818.8 L500.3,813.6 L511.5,812.1Z M550.8,795.1 L547.7,800.3 L536.5,801.8 L528.2,798.1 L531.3,792.9 L542.5,791.4Z M581.8,774.4 L578.7,779.6 L567.5,781.1 L559.2,777.4 L562.3,772.2 L573.5,770.7Z M612.8,753.7 L609.7,758.9 L598.5,760.4 L590.2,756.7 L593.3,751.5 L604.5,750.0Z M643.8,733.0 L640.7,738.2 L629.5,739.7 L621.2,736.0 L624.3,730.8 L635.5,729.3Z M674.8,712.3 L671.7,717.5 L660.5,719.0 L652.2,715.3 L655.3,710.1 L666.5,708.6Z M705.8,691.6 L702.7,696.8 L691.5,698.3 L683.2,694.6 L686.3,689.4 L697.5,687.9Z M736.8,670.9 L733.7,676.1 L722.5,677.6 L714.2,673.9 L717.3,668.7 L728.5,667.2Z M767.8,650.2 L764.7,655.4 L753.5,656.9 L745.2,653.2 L748.3,648.0 L759.5,646.5Z M798.8,629.5 L795.7,634.7 L784.5,636.2 L776.2,632.5 L779.3,627.3 L790.5,625.8Z M829.8,608.8 L826.7,614.0 L815.5,615.5 L807.2,611.8 L810.3,606.6 L821.5,605.1Z M860.8,588.1 L857.7,593.3 L846.5,594.8 L838.2,591.1 L841.3,585.9 L852.5,584.4Z M891.8,567.4 L888.7,572.6 L877.5,574.1 L869.2,570.4 L872.3,565.2 L883.5,563.7Z M922.8,546.7 L919.7,551.9 L908.5,553.4 L900.2,549.7 L903.3,544.5 L914.5,543.0Z M314.2,988.4 L311.1,993.6 L299.9,995.1 L291.6,991.4 L294.7,986.2 L305.9,984.7Z M345.2,967.7 L342.1,972.9 L330.9,974.4 L322.6,970.7 L325.7,965.5 L336.9,964.0Z M376.2,947.0 L373.1,952.2 L361.9,953.7 L353.6,950.0 L356.7,944.8 L367.9,943.3Z M407.2,926.3 L404.1,931.5 L392.9,933.0 L384.6,929.3 L387.7,924.1 L398.9,922.6Z M438.2,905.6 L435.1,910.8 L423.9,912.3 L415.6,908.6 L418.7,903.4 L429.9,901.9Z M469.2,884.9 L466.1,890.1 L454.9,891.6 L446.6,887.9 L449.7,882.7 L460.9,881.2Z M500.2,864.2 L497.1,869.4 L485.9,870.9 L477.6,867.2 L480.7,862.0 L491.9,860.5Z M531.2,843.5 L528.1,848.7 L516.9,850.2 L508.6,846.5 L511.7,841.3 L522.9,839.8Z M562.2,822.8 L559.1,828.0 L547.9,829.5 L539.6,825.8 L542.7,820.6 L553.9,819.1Z M593.2,802.1 L590.1,807.3 L578.9,808.8 L570.6,805.1 L573.7,799.9 L584.9,798.4Z M624.2,781.4 L621.1,786.6 L609.9,788.1 L601.6,784.4 L604.7,779.2 L615.9,777.7Z M655.2,760.7 L652.1,765.9 L640.9,767.4 L632.6,763.7 L635.7,758.5 L646.9,757.0Z M686.2,740.0 L683.1,745.2 L671.9,746.7 L663.6,743.0 L666.7,737.8 L677.9,736.3Z M717.2,719.3 L714.1,724.5 L702.9,726.0 L694.6,722.3 L697.7,717.1 L708.9,715.6Z M748.2,698.6 L745.1,703.8 L733.9,705.3 L725.6,701.6 L728.7,696.4 L739.9,694.9Z M779.2,677.9 L776.1,683.1 L764.9,684.6 L756.6,680.9 L759.7,675.7 L770.9,674.2Z M810.2,657.2 L807.1,662.4 L795.9,663.9 L787.6,660.2 L790.7,655.0 L801.9,653.5Z M841.2,636.5 L838.1,641.7 L826.9,643.2 L818.6,639.5 L821.7,634.3 L832.9,632.8Z M872.2,615.8 L869.1,621.0 L857.9,622.5 L849.6,618.8 L852.7,613.6 L863.9,612.1Z M903.2,595.1 L900.1,600.3 L888.9,601.8 L880.6,598.1 L883.7,592.9 L894.9,591.4Z M934.2,574.4 L931.1,579.6 L919.9,581.1 L911.6,577.4 L914.7,572.2 L925.9,570.7Z M356.6,995.4 L353.5,1000.6 L342.3,1002.1 L334.0,998.4 L337.1,993.2 L348.3,991.7Z M387.6,974.7 L384.5,979.9 L373.3,981.4 L365.0,977.7 L368.1,972.5 L379.3,971.0Z M418.6,954.0 L415.5,959.2 L404.3,960.7 L396.0,957.0 L399.1,951.8 L410.3,950.3Z M449.6,933.3 L446.5,938.5 L435.3,940.0 L427.0,936.3 L430.1,931.1 L441.3,929.6Z M480.6,912.6 L477.5,917.8 L466.3,919.3 L458.0,915.6 L461.1,910.4 L472.3,908.9Z M511.6,891.9 L508.5,897.1 L497.3,898.6 L489.0,894.9 L492.1,889.7 L503.3,888.2Z M542.6,871.2 L539.5,876.4 L528.3,877.9 L520.0,874.2 L523.1,869.0 L534.3,867.5Z M573.6,850.5 L570.5,855.7 L559.3,857.2 L551.0,853.5 L554.1,848.3 L565.3,846.8Z M604.6,829.8 L601.5,835.0 L590.3,836.5 L582.0,832.8 L585.1,827.6 L596.3,826.1Z M635.6,809.1 L632.5,814.3 L621.3,815.8 L613.0,812.1 L616.1,806.9 L627.3,805.4Z M666.6,788.4 L663.5,793.6 L652.3,795.1 L644.0,791.4 L647.1,786.2 L658.3,784.7Z M697.6,767.7 L694.5,772.9 L683.3,774.4 L675.0,770.7 L678.1,765.5 L689.3,764.0Z M728.6,747.0 L725.5,752.2 L714.3,753.7 L706.0,750.0 L709.1,744.8 L720.3,743.3Z M759.6,726.3 L756.5,731.5 L745.3,733.0 L737.0,729.3 L740.1,724.1 L751.3,722.6Z M790.6,705.6 L787.5,710.8 L776.3,712.3 L768.0,708.6 L771.1,703.4 L782.3,701.9Z M821.6,684.9 L818.5,690.1 L807.3,691.6 L799.0,687.9 L802.1,682.7 L813.3,681.2Z M852.6,664.2 L849.5,669.4 L838.3,670.9 L830.0,667.2 L833.1,662.0 L844.3,660.5Z M883.6,643.5 L880.5,648.7 L869.3,650.2 L861.0,646.5 L864.1,641.3 L875.3,639.8Z M914.6,622.8 L911.5,628.0 L900.3,629.5 L892.0,625.8 L895.1,620.6 L906.3,619.1Z M945.6,602.1 L942.5,607.3 L931.3,608.8 L923.0,605.1 L926.1,599.9 L937.3,598.4Z M368.0,1023.1 L364.9,1028.3 L353.7,1029.8 L345.4,1026.1 L348.5,1020.9 L359.7,1019.4Z M399.0,1002.4 L395.9,1007.6 L384.7,1009.1 L376.4,1005.4 L379.5,1000.2 L390.7,998.7Z M430.0,981.7 L426.9,986.9 L415.7,988.4 L407.4,984.7 L410.5,979.5 L421.7,978.0Z M461.0,961.0 L457.9,966.2 L446.7,967.7 L438.4,964.0 L441.5,958.8 L452.7,957.3Z M492.0,940.3 L488.9,945.5 L477.7,947.0 L469.4,943.3 L472.5,938.1 L483.7,936.6Z M523.0,919.6 L519.9,924.8 L508.7,926.3 L500.4,922.6 L503.5,917.4 L514.7,915.9Z M554.0,898.9 L550.9,904.1 L539.7,905.6 L531.4,901.9 L534.5,896.7 L545.7,895.2Z M585.0,878.2 L581.9,883.4 L570.7,884.9 L562.4,881.2 L565.5,876.0 L576.7,874.5Z M616.0,857.5 L612.9,862.7 L601.7,864.2 L593.4,860.5 L596.5,855.3 L607.7,853.8Z M647.0,836.8 L643.9,842.0 L632.7,843.5 L624.4,839.8 L627.5,834.6 L638.7,833.1Z M678.0,816.1 L674.9,821.3 L663.7,822.8 L655.4,819.1 L658.5,813.9 L669.7,812.4Z M709.0,795.4 L705.9,800.6 L694.7,802.1 L686.4,798.4 L689.5,793.2 L700.7,791.7Z M740.0,774.7 L736.9,779.9 L725.7,781.4 L717.4,777.7 L720.5,772.5 L731.7,771.0Z M771.0,754.0 L767.9,759.2 L756.7,760.7 L748.4,757.0 L751.5,751.8 L762.7,750.3Z M802.0,733.3 L798.9,738.5 L787.7,740.0 L779.4,736.3 L782.5,731.1 L793.7,729.6Z M833.0,712.6 L829.9,717.8 L818.7,719.3 L810.4,715.6 L813.5,710.4 L824.7,708.9Z M864.0,691.9 L860.9,697.1 L849.7,698.6 L841.4,694.9 L844.5,689.7 L855.7,688.2Z M895.0,671.2 L891.9,676.4 L880.7,677.9 L872.4,674.2 L875.5,669.0 L886.7,667.5Z M926.0,650.5 L922.9,655.7 L911.7,657.2 L903.4,653.5 L906.5,648.3 L917.7,646.8Z M957.0,629.8 L953.9,635.0 L942.7,636.5 L934.4,632.8 L937.5,627.6 L948.7,626.1Z M410.4,1030.1 L407.3,1035.3 L396.1,1036.8 L387.8,1033.1 L390.9,1027.9 L402.1,1026.4Z M441.4,1009.4 L438.3,1014.6 L427.1,1016.1 L418.8,1012.4 L421.9,1007.2 L433.1,1005.7Z M472.4,988.7 L469.3,993.9 L458.1,995.4 L449.8,991.7 L452.9,986.5 L464.1,985.0Z M503.4,968.0 L500.3,973.2 L489.1,974.7 L480.8,971.0 L483.9,965.8 L495.1,964.3Z M534.4,947.3 L531.3,952.5 L520.1,954.0 L511.8,950.3 L514.9,945.1 L526.1,943.6Z M565.4,926.6 L562.3,931.8 L551.1,933.3 L542.8,929.6 L545.9,924.4 L557.1,922.9Z M596.4,905.9 L593.3,911.1 L582.1,912.6 L573.8,908.9 L576.9,903.7 L588.1,902.2Z M627.4,885.2 L624.3,890.4 L613.1,891.9 L604.8,888.2 L607.9,883.0 L619.1,881.5Z M658.4,864.5 L655.3,869.7 L644.1,871.2 L635.8,867.5 L638.9,862.3 L650.1,860.8Z M689.4,843.8 L686.3,849.0 L675.1,850.5 L666.8,846.8 L669.9,841.6 L681.1,840.1Z M720.4,823.1 L717.3,828.3 L706.1,829.8 L697.8,826.1 L700.9,820.9 L712.1,819.4Z M751.4,802.4 L748.3,807.6 L737.1,809.1 L728.8,805.4 L731.9,800.2 L743.1,798.7Z M782.4,781.7 L779.3,786.9 L768.1,788.4 L759.8,784.7 L762.9,779.5 L774.1,778.0Z M813.4,761.0 L810.3,766.2 L799.1,767.7 L790.8,764.0 L793.9,758.8 L805.1,757.3Z M844.4,740.3 L841.3,745.5 L830.1,747.0 L821.8,743.3 L824.9,738.1 L836.1,736.6Z M875.4,719.6 L872.3,724.8 L861.1,726.3 L852.8,722.6 L855.9,717.4 L867.1,715.9Z M906.4,698.9 L903.3,704.1 L892.1,705.6 L883.8,701.9 L886.9,696.7 L898.1,695.2Z M937.4,678.2 L934.3,683.4 L923.1,684.9 L914.8,681.2 L917.9,676.0 L929.1,674.5Z M968.4,657.5 L965.3,662.7 L954.1,664.2 L945.8,660.5 L948.9,655.3 L960.1,653.8Z M421.8,1057.8 L418.7,1063.0 L407.5,1064.5 L399.2,1060.8 L402.3,1055.6 L413.5,1054.1Z M452.8,1037.1 L449.7,1042.3 L438.5,1043.8 L430.2,1040.1 L433.3,1034.9 L444.5,1033.4Z M483.8,1016.4 L480.7,1021.6 L469.5,1023.1 L461.2,1019.4 L464.3,1014.2 L475.5,1012.7Z M514.8,995.7 L511.7,1000.9 L500.5,1002.4 L492.2,998.7 L495.3,993.5 L506.5,992.0Z M545.8,975.0 L542.7,980.2 L531.5,981.7 L523.2,978.0 L526.3,972.8 L537.5,971.3Z M576.8,954.3 L573.7,959.5 L562.5,961.0 L554.2,957.3 L557.3,952.1 L568.5,950.6Z M607.8,933.6 L604.7,938.8 L593.5,940.3 L585.2,936.6 L588.3,931.4 L599.5,929.9Z M638.8,912.9 L635.7,918.1 L624.5,919.6 L616.2,915.9 L619.3,910.7 L630.5,909.2Z M669.8,892.2 L666.7,897.4 L655.5,898.9 L647.2,895.2 L650.3,890.0 L661.5,888.5Z M700.8,871.5 L697.7,876.7 L686.5,878.2 L678.2,874.5 L681.3,869.3 L692.5,867.8Z M731.8,850.8 L728.7,856.0 L717.5,857.5 L709.2,853.8 L712.3,848.6 L723.5,847.1Z M762.8,830.1 L759.7,835.3 L748.5,836.8 L740.2,833.1 L743.3,827.9 L754.5,826.4Z M793.8,809.4 L790.7,814.6 L779.5,816.1 L771.2,812.4 L774.3,807.2 L785.5,805.7Z M824.8,788.7 L821.7,793.9 L810.5,795.4 L802.2,791.7 L805.3,786.5 L816.5,785.0Z M855.8,768.0 L852.7,773.2 L841.5,774.7 L833.2,771.0 L836.3,765.8 L847.5,764.3Z M886.8,747.3 L883.7,752.5 L872.5,754.0 L864.2,750.3 L867.3,745.1 L878.5,743.6Z M917.8,726.6 L914.7,731.8 L903.5,733.3 L895.2,729.6 L898.3,724.4 L909.5,722.9Z M948.8,705.9 L945.7,711.1 L934.5,712.6 L926.2,708.9 L929.3,703.7 L940.5,702.2Z M979.8,685.2 L976.7,690.4 L965.5,691.9 L957.2,688.2 L960.3,683.0 L971.5,681.5Z M464.2,1064.8 L461.1,1070.0 L449.9,1071.5 L441.6,1067.8 L444.7,1062.6 L455.9,1061.1Z M495.2,1044.1 L492.1,1049.3 L480.9,1050.8 L472.6,1047.1 L475.7,1041.9 L486.9,1040.4Z M526.2,1023.4 L523.1,1028.6 L511.9,1030.1 L503.6,1026.4 L506.7,1021.2 L517.9,1019.7Z M557.2,1002.7 L554.1,1007.9 L542.9,1009.4 L534.6,1005.7 L537.7,1000.5 L548.9,999.0Z M588.2,982.0 L585.1,987.2 L573.9,988.7 L565.6,985.0 L568.7,979.8 L579.9,978.3Z M619.2,961.3 L616.1,966.5 L604.9,968.0 L596.6,964.3 L599.7,959.1 L610.9,957.6Z M650.2,940.6 L647.1,945.8 L635.9,947.3 L627.6,943.6 L630.7,938.4 L641.9,936.9Z M681.2,919.9 L678.1,925.1 L666.9,926.6 L658.6,922.9 L661.7,917.7 L672.9,916.2Z M712.2,899.2 L709.1,904.4 L697.9,905.9 L689.6,902.2 L692.7,897.0 L703.9,895.5Z M743.2,878.5 L740.1,883.7 L728.9,885.2 L720.6,881.5 L723.7,876.3 L734.9,874.8Z M774.2,857.8 L771.1,863.0 L759.9,864.5 L751.6,860.8 L754.7,855.6 L765.9,854.1Z M805.2,837.1 L802.1,842.3 L790.9,843.8 L782.6,840.1 L785.7,834.9 L796.9,833.4Z M836.2,816.4 L833.1,821.6 L821.9,823.1 L813.6,819.4 L816.7,814.2 L827.9,812.7Z M867.2,795.7 L864.1,800.9 L852.9,802.4 L844.6,798.7 L847.7,793.5 L858.9,792.0Z M898.2,775.0 L895.1,780.2 L883.9,781.7 L875.6,778.0 L878.7,772.8 L889.9,771.3Z M929.2,754.3 L926.1,759.5 L914.9,761.0 L906.6,757.3 L909.7,752.1 L920.9,750.6Z M960.2,733.6 L957.1,738.8 L945.9,740.3 L937.6,736.6 L940.7,731.4 L951.9,729.9Z M991.2,712.9 L988.1,718.1 L976.9,719.6 L968.6,715.9 L971.7,710.7 L982.9,709.2Z M475.6,1092.5 L472.5,1097.7 L461.3,1099.2 L453.0,1095.5 L456.1,1090.3 L467.3,1088.8Z M506.6,1071.8 L503.5,1077.0 L492.3,1078.5 L484.0,1074.8 L487.1,1069.6 L498.3,1068.1Z M537.6,1051.1 L534.5,1056.3 L523.3,1057.8 L515.0,1054.1 L518.1,1048.9 L529.3,1047.4Z M568.6,1030.4 L565.5,1035.6 L554.3,1037.1 L546.0,1033.4 L549.1,1028.2 L560.3,1026.7Z M599.6,1009.7 L596.5,1014.9 L585.3,1016.4 L577.0,1012.7 L580.1,1007.5 L591.3,1006.0Z M630.6,989.0 L627.5,994.2 L616.3,995.7 L608.0,992.0 L611.1,986.8 L622.3,985.3Z M661.6,968.3 L658.5,973.5 L647.3,975.0 L639.0,971.3 L642.1,966.1 L653.3,964.6Z M692.6,947.6 L689.5,952.8 L678.3,954.3 L670.0,950.6 L673.1,945.4 L684.3,943.9Z M723.6,926.9 L720.5,932.1 L709.3,933.6 L701.0,929.9 L704.1,924.7 L715.3,923.2Z M754.6,906.2 L751.5,911.4 L740.3,912.9 L732.0,909.2 L735.1,904.0 L746.3,902.5Z M785.6,885.5 L782.5,890.7 L771.3,892.2 L763.0,888.5 L766.1,883.3 L777.3,881.8Z M816.6,864.8 L813.5,870.0 L802.3,871.5 L794.0,867.8 L797.1,862.6 L808.3,861.1Z M847.6,844.1 L844.5,849.3 L833.3,850.8 L825.0,847.1 L828.1,841.9 L839.3,840.4Z M878.6,823.4 L875.5,828.6 L864.3,830.1 L856.0,826.4 L859.1,821.2 L870.3,819.7Z M909.6,802.7 L906.5,807.9 L895.3,809.4 L887.0,805.7 L890.1,800.5 L901.3,799.0Z M940.6,782.0 L937.5,787.2 L926.3,788.7 L918.0,785.0 L921.1,779.8 L932.3,778.3Z M971.6,761.3 L968.5,766.5 L957.3,768.0 L949.0,764.3 L952.1,759.1 L963.3,757.6Z M1002.6,740.6 L999.5,745.8 L988.3,747.3 L980.0,743.6 L983.1,738.4 L994.3,736.9Z M518.0,1099.5 L514.9,1104.7 L503.7,1106.2 L495.4,1102.5 L498.5,1097.3 L509.7,1095.8Z M549.0,1078.8 L545.9,1084.0 L534.7,1085.5 L526.4,1081.8 L529.5,1076.6 L540.7,1075.1Z M580.0,1058.1 L576.9,1063.3 L565.7,1064.8 L557.4,1061.1 L560.5,1055.9 L571.7,1054.4Z M611.0,1037.4 L607.9,1042.6 L596.7,1044.1 L588.4,1040.4 L591.5,1035.2 L602.7,1033.7Z M642.0,1016.7 L638.9,1021.9 L627.7,1023.4 L619.4,1019.7 L622.5,1014.5 L633.7,1013.0Z M673.0,996.0 L669.9,1001.2 L658.7,1002.7 L650.4,999.0 L653.5,993.8 L664.7,992.3Z M704.0,975.3 L700.9,980.5 L689.7,982.0 L681.4,978.3 L684.5,973.1 L695.7,971.6Z M735.0,954.6 L731.9,959.8 L720.7,961.3 L712.4,957.6 L715.5,952.4 L726.7,950.9Z M766.0,933.9 L762.9,939.1 L751.7,940.6 L743.4,936.9 L746.5,931.7 L757.7,930.2Z M797.0,913.2 L793.9,918.4 L782.7,919.9 L774.4,916.2 L777.5,911.0 L788.7,909.5Z M828.0,892.5 L824.9,897.7 L813.7,899.2 L805.4,895.5 L808.5,890.3 L819.7,888.8Z M859.0,871.8 L855.9,877.0 L844.7,878.5 L836.4,874.8 L839.5,869.6 L850.7,868.1Z M890.0,851.1 L886.9,856.3 L875.7,857.8 L867.4,854.1 L870.5,848.9 L881.7,847.4Z M921.0,830.4 L917.9,835.6 L906.7,837.1 L898.4,833.4 L901.5,828.2 L912.7,826.7Z M952.0,809.7 L948.9,814.9 L937.7,816.4 L929.4,812.7 L932.5,807.5 L943.7,806.0Z M983.0,789.0 L979.9,794.2 L968.7,795.7 L960.4,792.0 L963.5,786.8 L974.7,785.3Z M1014.0,768.3 L1010.9,773.5 L999.7,775.0 L991.4,771.3 L994.5,766.1 L1005.7,764.6Z M529.4,1127.2 L526.3,1132.4 L515.1,1133.9 L506.8,1130.2 L509.9,1125.0 L521.1,1123.5Z M560.4,1106.5 L557.3,1111.7 L546.1,1113.2 L537.8,1109.5 L540.9,1104.3 L552.1,1102.8Z M591.4,1085.8 L588.3,1091.0 L577.1,1092.5 L568.8,1088.8 L571.9,1083.6 L583.1,1082.1Z M622.4,1065.1 L619.3,1070.3 L608.1,1071.8 L599.8,1068.1 L602.9,1062.9 L614.1,1061.4Z M653.4,1044.4 L650.3,1049.6 L639.1,1051.1 L630.8,1047.4 L633.9,1042.2 L645.1,1040.7Z M684.4,1023.7 L681.3,1028.9 L670.1,1030.4 L661.8,1026.7 L664.9,1021.5 L676.1,1020.0Z M715.4,1003.0 L712.3,1008.2 L701.1,1009.7 L692.8,1006.0 L695.9,1000.8 L707.1,999.3Z M746.4,982.3 L743.3,987.5 L732.1,989.0 L723.8,985.3 L726.9,980.1 L738.1,978.6Z M777.4,961.6 L774.3,966.8 L763.1,968.3 L754.8,964.6 L757.9,959.4 L769.1,957.9Z M808.4,940.9 L805.3,946.1 L794.1,947.6 L785.8,943.9 L788.9,938.7 L800.1,937.2Z M839.4,920.2 L836.3,925.4 L825.1,926.9 L816.8,923.2 L819.9,918.0 L831.1,916.5Z M870.4,899.5 L867.3,904.7 L856.1,906.2 L847.8,902.5 L850.9,897.3 L862.1,895.8Z M901.4,878.8 L898.3,884.0 L887.1,885.5 L878.8,881.8 L881.9,876.6 L893.1,875.1Z M932.4,858.1 L929.3,863.3 L918.1,864.8 L909.8,861.1 L912.9,855.9 L924.1,854.4Z M571.8,1134.2 L568.7,1139.4 L557.5,1140.9 L549.2,1137.2 L552.3,1132.0 L563.5,1130.5Z M602.8,1113.5 L599.7,1118.7 L588.5,1120.2 L580.2,1116.5 L583.3,1111.3 L594.5,1109.8Z M633.8,1092.8 L630.7,1098.0 L619.5,1099.5 L611.2,1095.8 L614.3,1090.6 L625.5,1089.1Z M664.8,1072.1 L661.7,1077.3 L650.5,1078.8 L642.2,1075.1 L645.3,1069.9 L656.5,1068.4Z M695.8,1051.4 L692.7,1056.6 L681.5,1058.1 L673.2,1054.4 L676.3,1049.2 L687.5,1047.7Z M726.8,1030.7 L723.7,1035.9 L712.5,1037.4 L704.2,1033.7 L707.3,1028.5 L718.5,1027.0Z" fill="#131313" />
<polygon points="211.0,902.0 230.0,877.0 288.0,896.0 224.0,947.0" fill="#0c0c0c" />
<path d="M224,947 L290,898" stroke="#555" stroke-width="2"/>
<polygon points="586.0,1139.0 1070.0,771.0 1078.0,777.0 594.0,1146.0" fill="#3a3a3a" />
<path d="M1105.4,633.1 Q1102.0,631.0 1105.3,628.8 L1138.7,606.5 Q1147.0,601.0 1156.1,605.1 L1181.2,616.3 Q1194.0,622.0 1195.5,635.9 L1197.9,657.1 Q1199.0,667.0 1190.5,672.2 L1173.1,682.9 Q1168.0,686.0 1164.4,681.2 L1149.4,661.2 Q1147.0,658.0 1143.6,655.9 Z" fill="#090909" />
<path d="M1037.2,668.4 Q1034.0,666.0 1037.5,664.1 L1095.5,632.9 Q1099.0,631.0 1102.0,633.7 L1154.6,680.7 Q1165.0,690.0 1153.5,698.0 L1126.5,717.0 Q1115.0,725.0 1103.7,716.8 Z" fill="#ffffff" />
<polygon points="1040.0,768.0 1062.0,770.0 1058.0,775.0 1042.0,774.0" fill="#fff" />
<path d="M602,1160 L1217,675" stroke="#030303" stroke-width="20" stroke-dasharray="15 8" fill="none"/>
<path d="M598,1164 L1220,672" stroke="#030303" stroke-width="5" fill="none"/>
<path d="M198,893 L238,860" stroke="#030303" stroke-width="13" stroke-dasharray="10 6" fill="none"/>
<path d="M1176,588 L1234,625" stroke="#030303" stroke-width="15" stroke-dasharray="12 7" fill="none"/>
<ellipse cx="177" cy="932" rx="20" ry="14" fill="#060606" stroke="#383838" stroke-width="2"/>
<ellipse cx="177" cy="935" rx="13" ry="8.5" fill="#1b1b1b"/>
<ellipse cx="548" cy="1172" rx="20" ry="14" fill="#060606" stroke="#383838" stroke-width="2"/>
<ellipse cx="548" cy="1175" rx="13" ry="8.5" fill="#1b1b1b"/>
<ellipse cx="1232" cy="648" rx="20" ry="14" fill="#060606" stroke="#383838" stroke-width="2"/>
<ellipse cx="1232" cy="651" rx="13" ry="8.5" fill="#1b1b1b"/>
<ellipse cx="921" cy="911" rx="20" ry="14" fill="#060606" stroke="#383838" stroke-width="2"/>
<ellipse cx="921" cy="914" rx="13" ry="8.5" fill="#1b1b1b"/>
<path d="M238,1000 L280,1024" stroke="#000" stroke-width="9" stroke-linecap="round"/>
<path d="M412,1108 L452,1130" stroke="#000" stroke-width="9" stroke-linecap="round"/>
<polygon points="1005.0,872.0 1068.0,823.0 1073.0,848.0 1009.0,897.0" fill="#171717" />
<path d="M1005,872 L1068,823" stroke="#2c2c2c" stroke-width="2"/>
<text transform="matrix(-0.79,0.61,0.28,0.52,1060,847)" font-size="19" fill="#050505" style="font-style:normal" font-weight="bold">PWR</text>
<polygon points="283.0,1068.0 368.0,1116.0 368.0,1150.0 283.0,1106.0" fill="#151515" />
</g>
<g id="phone">
<path d="M224.6,845.3 Q174.0,813.0 223.4,779.0 L842.9,352.5 Q880.0,327.0 918.5,350.2 L1187.2,512.2 Q1230.0,538.0 1190.0,567.9 L578.6,1024.9 Q545.0,1050.0 509.6,1027.4 Z" fill="url(#pside)" />
<path d="M224.6,810.3 Q174.0,778.0 223.4,744.0 L842.9,317.5 Q880.0,292.0 918.5,315.2 L1187.2,477.2 Q1230.0,503.0 1190.0,532.9 L578.6,989.9 Q545.0,1015.0 509.6,992.4 Z" fill="#0a0a0a" stroke="#4e4e4e" stroke-width="2.5"/>
<g clip-path="url(#scrclip)">
<rect x="150" y="250" width="1150" height="800" fill="#1d5fd0"/>
<rect x="150" y="250" width="700" height="800" fill="url(#disc)"/>
<path d="M150,800 L321,681 Q430,592 542,533 Q625,506 712,527 L690,395 L880,250 L150,740 Z" fill="url(#teal)" />
<path d="M542,533 Q625,506 712,527 L690,395 L560,480 Z" fill="url(#tealsh)" />
<ellipse cx="430" cy="850" rx="150" ry="115" transform="rotate(30 430 850)" fill="url(#sph2)"/>
<path d="M160,790 L330,690 Q300,780 345,905 L190,830 Z" fill="url(#lc)" />
<g clip-path="url(#leftdiv)">
<polygon points="810,578 810,1010 380,1010 380,880 722,642" fill="url(#pinkh)" filter="url(#blur14)"/>
</g>
<path d="M740,860 L760,1010 L380,1010 L455,905 Q600,905 740,860 Z" fill="url(#pink2)" />
<polygon points="689.0,395.0 739.0,856.0 760.0,1010.0 1300.0,1010.0 1300.0,250.0 800.0,250.0" fill="url(#wedge)" />
<g clip-path="url(#rightdiv)">
<polygon points="690,640 735,840 1010,640 880,560 760,600" fill="#07145e" filter="url(#blur14)"/>
<polygon points="700,650 735,800 900,680 800,630" fill="#050f52" filter="url(#blur14)"/>
</g>
<g clip-path="url(#belowband)">
<rect x="700" y="250" width="600" height="780" fill="url(#bb)"/>
<g transform="translate(880,622) rotate(-36) scale(240,165)"><circle r="1" fill="url(#bbd)"/></g>
</g>
</g>
<path d="M967.0,378.0 Q962.0,370.0 965.9,361.4 L970.3,351.6 Q972.0,348.0 975.4,350.0 L1106.6,428.0 Q1110.0,430.0 1106.9,432.5 L1097.8,439.8 Q1090.0,446.0 1080.2,444.2 L1075.9,443.4 Q1068.0,442.0 1061.1,438.0 L980.1,390.8 Q972.0,386.0 967.0,378.0 Z" fill="#0a0a0a" />
<circle cx="981" cy="373" r="4" fill="#1a2a80"/>
<path d="M1016,378 L1058,403" stroke="#3a3a3a" stroke-width="5" stroke-linecap="round"/>
<text transform="matrix(0.98,0.60,-0.82,0.57,848,449)" font-size="76" fill="#f0fcff" style="font-style:normal" font-weight="normal">9:41</text>
<text transform="matrix(0.855,0.52,-0.82,0.57,808,459)" font-size="21.5" fill="#f4fbff" style="font-style:normal">Tuesday, January 12</text>
<g transform="matrix(0.855,0.52,-0.82,0.57,975,441) scale(1.15)"><rect x="-11" y="-16" width="22" height="17" rx="3" fill="#f4fbff"/><path d="M-6,-16 v-6 a6,6 0 0 1 12,0 v6" fill="none" stroke="#f4fbff" stroke-width="3"/></g>
<g transform="matrix(0.855,0.52,-0.82,0.57,1146,466)"><rect x="12" y="-10" width="25" height="12" rx="3.5" fill="#eafcff"/><rect x="38" y="-6" width="2" height="4" fill="#eafcff"/><path d="M-22,4 h30" stroke="#eafcff" stroke-width="2.2"/><path d="M-9,-3 a9,9 0 0 1 13,0 M-6.5,0 a5.5,5.5 0 0 1 8,0 M-11.5,-6 a13,13 0 0 1 18,0" stroke="#eafcff" stroke-width="1.8" fill="none"/></g>
<ellipse cx="313" cy="771" rx="30" ry="21" fill="#0a3558" opacity="0.7"/>
<g transform="matrix(0.855,0.52,-0.82,0.57,313,771)"><path d="M-5,-10 h10 l-2,7 v12 h-6 v-12 z" fill="#fff"/></g>
<ellipse cx="541" cy="916" rx="31" ry="22" fill="#8a3f8e" opacity="0.85"/>
<g transform="matrix(0.855,0.52,-0.82,0.57,541,916)"><rect x="-10" y="-7" width="20" height="15" rx="3" fill="#fff"/><circle cx="0" cy="1" r="4.5" fill="none" stroke="#8a3f8e" stroke-width="1.6"/><rect x="-4" y="-10" width="8" height="4" fill="#fff"/></g>
<path d="M310,845 L434,924" stroke="#f2f8ff" stroke-width="5" stroke-linecap="round"/>
<ellipse cx="272" cy="862" rx="3.6" ry="3.2" fill="#0a0a0a"/>
<ellipse cx="284" cy="869" rx="3.6" ry="3.2" fill="#0a0a0a"/>
<ellipse cx="296" cy="876" rx="3.6" ry="3.2" fill="#0a0a0a"/>
<ellipse cx="319" cy="891" rx="3.6" ry="3.2" fill="#0a0a0a"/>
<ellipse cx="386" cy="932" rx="3.6" ry="3.2" fill="#0a0a0a"/>
<ellipse cx="412" cy="949" rx="3.6" ry="3.2" fill="#0a0a0a"/>
<ellipse cx="425" cy="957" rx="3.6" ry="3.2" fill="#0a0a0a"/>
<ellipse cx="438" cy="965" rx="3.6" ry="3.2" fill="#0a0a0a"/>
<ellipse cx="451" cy="973" rx="3.6" ry="3.2" fill="#0a0a0a"/>
<ellipse cx="464" cy="981" rx="3.6" ry="3.2" fill="#0a0a0a"/>
<path d="M340,908 L368,925" stroke="#0a0a0a" stroke-width="9" stroke-linecap="round"/>
<path d="M970,722 L1043,660" stroke="#2a2a2a" stroke-width="4" stroke-linecap="round"/>
</g>
<g id="frontframe">
<path d="M154,569 L818,110 L850,104 L912,103 L931,110 L1255,293 L1268,308 L1270,349 L1266,364 L597,860 L570,868 L525,870 L489,866 L146,647 L142,630 L142,597 Z M214,596 L854,148.6 L893,146 L997,202.6 L1014,195 L1089,231 L1093,256 L1199,316 L1199,333 L566,810 L525,814 L215,615 Z" fill="#0c0c0c" fill-rule="evenodd"/>
<polygon points="156.0,570.0 818.0,112.0 850.0,106.0 848.0,127.0 197.0,577.0" fill="url(#tl1)" />
<polygon points="199.0,581.0 848.0,131.0 853.0,146.0 214.0,593.0" fill="url(#tl2)" />
<polygon points="850.0,106.0 912.0,105.0 931.0,112.0 1253.0,294.0 1218.0,299.0 1050.0,209.0 895.0,122.0 848.0,127.0" fill="url(#tr1)" />
<polygon points="1253.0,294.0 1266.0,309.0 1268.0,349.0 1264.0,362.0 1221.0,337.0 1218.0,299.0" fill="url(#rc)" />
<polygon points="1221.0,339.0 1264.0,364.0 598.0,857.0 578.0,812.0" fill="url(#br1)" />
<polygon points="578.0,812.0 598.0,857.0 570.0,866.0 525.0,868.0 491.0,864.0 523.0,818.0" fill="url(#bc)" />
<polygon points="150.0,640.0 212.0,620.0 523.0,818.0 491.0,862.0" fill="url(#bl1)" />
<polygon points="156.0,570.0 197.0,577.0 212.0,598.0 212.0,620.0 150.0,640.0 144.0,628.0 144.0,598.0" fill="#1f1f1f" />
<polygon points="156.0,570.0 197.0,577.0 186.0,592.0 150.0,596.0" fill="#2c2c2c" />
<path d="M151,641 L490,863 Q525,871 570,867 L597,858" stroke="#2e2e2e" stroke-width="2" fill="none"/>
<path d="M598,859 L1264,365" stroke="#0a0a0a" stroke-width="4" fill="none"/>
<path d="M197,578 L848,128 L895,122 L1218,299" stroke="#050505" stroke-width="2.5" fill="none"/>
<ellipse cx="505" cy="337" rx="12" ry="7" transform="rotate(-20 505 337)" fill="#040404" stroke="#3a3a3a" stroke-width="1.2"/>
<ellipse cx="702" cy="205" rx="12" ry="7" transform="rotate(-20 702 205)" fill="#fff" stroke="#3a3a3a" stroke-width="1.2"/>
<ellipse cx="873" cy="113" rx="11" ry="6.5" transform="rotate(-3 873 113)" fill="#040404" stroke="#3a3a3a" stroke-width="1.2"/>
<ellipse cx="1253" cy="320" rx="11" ry="9" transform="rotate(0 1253 320)" fill="#040404" stroke="#3a3a3a" stroke-width="1.2"/>
<ellipse cx="929" cy="586" rx="16" ry="12.5" transform="rotate(0 929 586)" fill="#040404" stroke="#3a3a3a" stroke-width="1.2"/>
<ellipse cx="545" cy="847" rx="14" ry="13" transform="rotate(0 545 847)" fill="#040404" stroke="#3a3a3a" stroke-width="1.2"/>
<ellipse cx="161" cy="603" rx="15" ry="10" transform="rotate(-22 161 603)" fill="#040404" stroke="#3a3a3a" stroke-width="1.2"/>
<ellipse cx="702" cy="205" rx="12" ry="7" transform="rotate(-20 702 205)" fill="none" stroke="#0a0a0a" stroke-width="3"/>
<path d="M224,676 L258,697" stroke="#fff" stroke-width="9" stroke-linecap="round"/>
<path d="M404,785 L438,805" stroke="#2a6fd0" stroke-width="8" stroke-linecap="round"/>
<path d="M224,676 L258,697" stroke="#0a0a0a" stroke-width="13" stroke-linecap="round" opacity="0"/>
<polygon points="168.0,571.0 186.0,558.0 193.0,566.0 176.0,578.0" fill="#0a0a0a" />
<polygon points="178.0,570.0 187.0,561.0 190.0,569.0" fill="#fff" />
</g>
<g transform="translate(873,8) scale(1.0)"><rect x="-6.5" y="12" width="13" height="24" rx="3.5" fill="#161616"/><rect x="-2.5" y="15" width="3.5" height="19" fill="#4a4a4a"/><path d="M-13.5,1 L-13.5,9 Q-13,16 0,17 Q13,16 13.5,9 L13.5,1 Z" fill="#101010"/><path d="M-9,12 Q0,16 9,12" stroke="#4a4a4a" stroke-width="1.5" fill="none"/><ellipse cx="0" cy="1.5" rx="13.5" ry="7.5" fill="#303030" stroke="#0a0a0a" stroke-width="1.5"/><polygon points="-7,1.5 -3.5,-3 3.5,-3 7,1.5 3.5,5.5 -3.5,5.5" fill="#060606"/></g>
<g transform="translate(507,233) scale(1.0)"><rect x="-6.5" y="12" width="13" height="24" rx="3.5" fill="#161616"/><rect x="-2.5" y="15" width="3.5" height="19" fill="#4a4a4a"/><path d="M-13.5,1 L-13.5,9 Q-13,16 0,17 Q13,16 13.5,9 L13.5,1 Z" fill="#101010"/><path d="M-9,12 Q0,16 9,12" stroke="#4a4a4a" stroke-width="1.5" fill="none"/><ellipse cx="0" cy="1.5" rx="13.5" ry="7.5" fill="#303030" stroke="#0a0a0a" stroke-width="1.5"/><polygon points="-7,1.5 -3.5,-3 3.5,-3 7,1.5 3.5,5.5 -3.5,5.5" fill="#060606"/></g>
<g transform="translate(1256,218) scale(1.0)"><rect x="-6.5" y="12" width="13" height="24" rx="3.5" fill="#161616"/><rect x="-2.5" y="15" width="3.5" height="19" fill="#4a4a4a"/><path d="M-13.5,1 L-13.5,9 Q-13,16 0,17 Q13,16 13.5,9 L13.5,1 Z" fill="#101010"/><path d="M-9,12 Q0,16 9,12" stroke="#4a4a4a" stroke-width="1.5" fill="none"/><ellipse cx="0" cy="1.5" rx="13.5" ry="7.5" fill="#303030" stroke="#0a0a0a" stroke-width="1.5"/><polygon points="-7,1.5 -3.5,-3 3.5,-3 7,1.5 3.5,5.5 -3.5,5.5" fill="#060606"/></g>
<g transform="translate(157,501) scale(1.0)"><rect x="-6.5" y="12" width="13" height="24" rx="3.5" fill="#161616"/><rect x="-2.5" y="15" width="3.5" height="19" fill="#4a4a4a"/><path d="M-13.5,1 L-13.5,9 Q-13,16 0,17 Q13,16 13.5,9 L13.5,1 Z" fill="#101010"/><path d="M-9,12 Q0,16 9,12" stroke="#4a4a4a" stroke-width="1.5" fill="none"/><ellipse cx="0" cy="1.5" rx="13.5" ry="7.5" fill="#303030" stroke="#0a0a0a" stroke-width="1.5"/><polygon points="-7,1.5 -3.5,-3 3.5,-3 7,1.5 3.5,5.5 -3.5,5.5" fill="#060606"/></g>
<g transform="translate(930,481) scale(1.0)"><rect x="-6.5" y="12" width="13" height="24" rx="3.5" fill="#161616"/><rect x="-2.5" y="15" width="3.5" height="19" fill="#4a4a4a"/><path d="M-13.5,1 L-13.5,9 Q-13,16 0,17 Q13,16 13.5,9 L13.5,1 Z" fill="#101010"/><path d="M-9,12 Q0,16 9,12" stroke="#4a4a4a" stroke-width="1.5" fill="none"/><ellipse cx="0" cy="1.5" rx="13.5" ry="7.5" fill="#303030" stroke="#0a0a0a" stroke-width="1.5"/><polygon points="-7,1.5 -3.5,-3 3.5,-3 7,1.5 3.5,5.5 -3.5,5.5" fill="#060606"/></g>
<g transform="translate(543,741) scale(1.0)"><rect x="-6.5" y="12" width="13" height="24" rx="3.5" fill="#161616"/><rect x="-2.5" y="15" width="3.5" height="19" fill="#4a4a4a"/><path d="M-13.5,1 L-13.5,9 Q-13,16 0,17 Q13,16 13.5,9 L13.5,1 Z" fill="#101010"/><path d="M-9,12 Q0,16 9,12" stroke="#4a4a4a" stroke-width="1.5" fill="none"/><ellipse cx="0" cy="1.5" rx="13.5" ry="7.5" fill="#303030" stroke="#0a0a0a" stroke-width="1.5"/><polygon points="-7,1.5 -3.5,-3 3.5,-3 7,1.5 3.5,5.5 -3.5,5.5" fill="#060606"/></g>
<rect x="536" y="868" width="14" height="12" rx="3" fill="#151515"/>
<path d="M17,144.5 L612,144.5 L711,319" stroke="#111" stroke-width="3" fill="none" stroke-linejoin="round"/>
<path d="M763,1060 L847,1441 L1428,1441 M740,1259 L847,1441" stroke="#111" stroke-width="3" fill="none" stroke-linejoin="round"/>
<circle cx="712" cy="321" r="10" fill="none" stroke="#22c83c" stroke-width="2.2"/>
<circle cx="712" cy="321" r="4.2" fill="#28dc46"/>
<circle cx="761" cy="1049" r="10" fill="none" stroke="#22c83c" stroke-width="2.2"/>
<circle cx="761" cy="1049" r="4.2" fill="#28dc46"/>
<circle cx="736" cy="1250" r="10" fill="none" stroke="#22c83c" stroke-width="2.2"/>
<circle cx="736" cy="1250" r="4.2" fill="#28dc46"/>
<text x="17" y="69" font-size="44.5" fill="#111" textLength="575" lengthAdjust="spacingAndGlyphs">Protective front casing with</text>
<text x="17" y="133" font-size="44.5" fill="#3a5fd0" stroke="#3a5fd0" stroke-width="0.8" textLength="560" lengthAdjust="spacingAndGlyphs">Built–in Screen Protector</text>
<text x="919" y="1360" font-size="44.5" fill="#111" textLength="395" lengthAdjust="spacingAndGlyphs"><tspan fill="#3a5fd0" stroke="#3a5fd0" stroke-width="0.8">Dual–layer</tspan> rugged</text>
<text x="919" y="1424.5" font-size="44.5" fill="#111" textLength="441" lengthAdjust="spacingAndGlyphs">metal &amp; rubber cover</text>
</svg>
</body></html>
